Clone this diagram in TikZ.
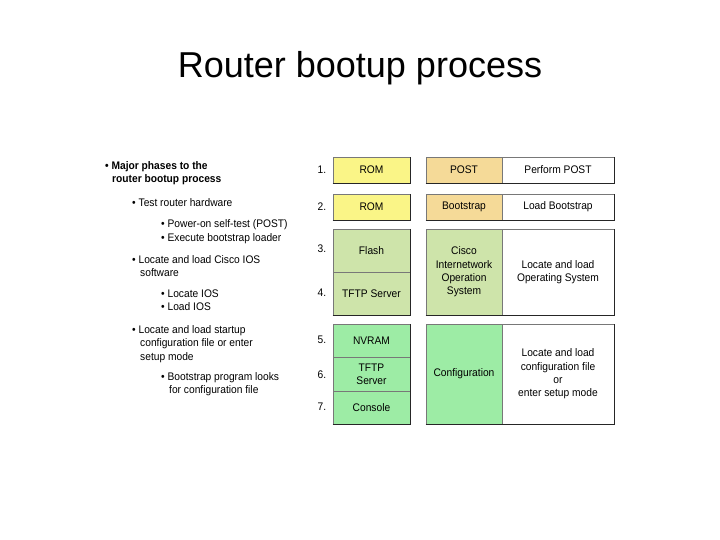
\documentclass[tikz,border=0pt]{standalone}
\usepackage{fontspec}
\setmainfont{Liberation Sans}
\newfontfamily\narrowfont[FakeStretch=0.93]{Liberation Sans}
\definecolor{romyellow}{RGB}{250,245,135}
\definecolor{posttan}{RGB}{245,218,152}
\definecolor{flashgreen}{RGB}{206,228,170}
\definecolor{nvgreen}{RGB}{157,236,165}
\definecolor{edgegray}{RGB}{120,120,120}
\begin{document}
\begin{tikzpicture}[x=1pt,y=-1pt,
  font=\narrowfont\fontsize{11}{13.3}\selectfont,
  txt/.style={anchor=base west, inner sep=0pt},
  num/.style={anchor=center, inner sep=0pt},
  cell/.style={draw=edgegray, line width=0.6pt, inner sep=0pt, align=center, minimum width=#1},
  cell/.default=77pt,
  darkedge/.style={draw=black!85, line width=0.9pt}]
\useasboundingbox (0,0) rectangle (720,540);
% title
\node[anchor=base, inner sep=0pt, font=\fontsize{36}{40}\selectfont] (title) at (360,78) {Router bootup process};
% left text
\node[txt, font=\narrowfont\bfseries\fontsize{11}{13.3}\selectfont] (t1) at (105,170) {• Major phases to the};
\node[txt, font=\narrowfont\bfseries\fontsize{11}{13.3}\selectfont] (t2) at (112,183) {router bootup process};
\node[txt] (t3) at (132,207) {• Test router hardware};
\node[txt] (t4) at (161,228) {• Power-on self-test (POST)};
\node[txt] (t5) at (161,241) {• Execute bootstrap loader};
\node[txt] (t6) at (132,263) {• Locate and load Cisco IOS};
\node[txt] (t7) at (140,276) {software};
\node[txt] (t8) at (161,297) {• Locate IOS};
\node[txt] (t9) at (161,310) {• Load IOS};
\node[txt] (t10) at (132,333) {• Locate and load startup};
\node[txt] (t11) at (140,346) {configuration file or enter};
\node[txt] (t12) at (140,360) {setup mode};
\node[txt] (t13) at (161,380) {• Bootstrap program looks};
\node[txt] (t14) at (169,393) {for configuration file};
% numbers
\node[num] (n1) at (322,170) {1.};
\node[num] (n2) at (322,207) {2.};
\node[num] (n3) at (322,249) {3.};
\node[num] (n4) at (322,293) {4.};
\node[num] (n5) at (322,340) {5.};
\node[num] (n6) at (322,375) {6.};
\node[num] (n7) at (322,407) {7.};
% column 1
\node[cell, fill=romyellow, minimum height=26pt] (rom1) at (371.5,170) {ROM};
\node[cell, fill=romyellow, minimum height=26pt] (rom2) at (371.5,207) {ROM};
\node[cell, fill=flashgreen, minimum height=43pt] (flash) at (371.5,250.5) {Flash};
\node[cell, fill=flashgreen, minimum height=43pt] (tftp1) at (371.5,293.5) {TFTP Server};
\node[cell, fill=nvgreen, minimum height=33pt] (nvram) at (371.5,340.5) {NVRAM};
\node[cell, fill=nvgreen, minimum height=34pt] (tftp2) at (371.5,374) {TFTP\\Server};
\node[cell, fill=nvgreen, minimum height=33pt] (console) at (371.5,407.5) {Console};
% column 2
\node[cell=76pt, fill=posttan, minimum height=26pt] (post) at (464,170) {POST};
\node[cell=76pt, fill=posttan, minimum height=26pt] (boot) at (464,207) {Bootstrap};
\node[cell=76pt, fill=flashgreen, minimum height=86pt] (cios) at (464,272) {Cisco\\Internetwork\\Operation\\System};
\node[cell=76pt, fill=nvgreen, minimum height=100pt] (config) at (464,374) {Configuration};
% column 3
\node[cell=112pt, fill=white, minimum height=26pt] (perform) at (558,170) {Perform POST};
\node[cell=112pt, fill=white, minimum height=26pt] (loadboot) at (558,207) {Load Bootstrap};
\node[cell=112pt, fill=white, minimum height=86pt] (locos) at (558,272) {Locate and load\\Operating System};
\node[cell=112pt, fill=white, minimum height=100pt] (locconf) at (558,374) {Locate and load\\configuration file\\or\\enter setup mode};
% darker bottom/right edges
\draw[darkedge] (rom1.south west) -- (rom1.south east) -- (rom1.north east);
\draw[darkedge] (rom2.south west) -- (rom2.south east) -- (rom2.north east);
\draw[darkedge] (tftp1.south west) -- (tftp1.south east) -- (flash.north east);
\draw[darkedge] (console.south west) -- (console.south east) -- (nvram.north east);
\draw[darkedge] (post.south west) -- (perform.south east) -- (perform.north east);
\draw[darkedge] (boot.south west) -- (loadboot.south east) -- (loadboot.north east);
\draw[darkedge] (cios.south west) -- (locos.south east) -- (locos.north east);
\draw[darkedge] (config.south west) -- (locconf.south east) -- (locconf.north east);
\end{tikzpicture}
\end{document}
